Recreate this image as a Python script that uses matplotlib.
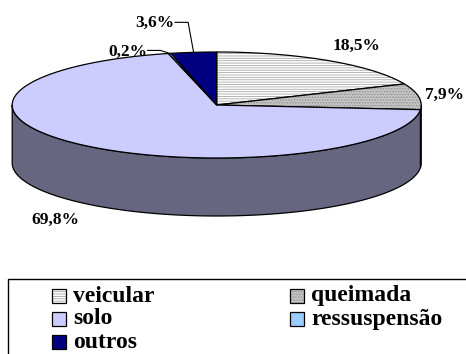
import numpy as np
import matplotlib
matplotlib.use("Agg")
import matplotlib.pyplot as plt
from matplotlib.patches import Polygon, Rectangle

# Source shares (%)
categories = ["veicular", "queimada", "solo", "ressuspensão", "outros"]
shares = [18.5, 7.9, 69.8, 0.2, 3.6]
labels = ["18,5%", "7,9%", "69,8%", "0,2%", "3,6%"]

# Styling per slice
top_colors = ["#FFFFFF", "#C4C4C4", "#CCCCFF", "#99CCFF", "#000080"]
side_colors = ["#808080", "#626262", "#666680", "#4C6680", "#000040"]
hatches = ["-------", "......", None, None, None]
hatch_colors = ["#A8A8A8", "#8A8A8A", None, None, None]

# Pie geometry (pixel space)
CX, CY = 216.7, 105.0
RX, RY = 204.5, 53.0
DEPTH = 58.0

# Label placement: offset from the rim point at each slice's mid angle
label_offsets = [(28, -15), (26, -1.5), (-28, 75), (-42, -2), (-38.5, -29)]
leader = [False, False, False, True, True]

FONT = "Liberation Serif"

plt.rcParams["hatch.linewidth"] = 0.6

fig = plt.figure(figsize=(4.66, 3.54), dpi=100)
ax = fig.add_axes([0, 0, 1, 1])
ax.set_xlim(0, 466)
ax.set_ylim(354, 0)
ax.axis("off")


def rim(t_deg, dz=0.0):
    t = np.radians(t_deg)
    return CX + RX * np.cos(t), CY - RY * np.sin(t) + dz


def arc(t0, t1, dz=0.0, n=200):
    ts = np.linspace(t0, t1, max(2, int(abs(t1 - t0) / 360 * n) + 2))
    x, y = rim(ts, dz)
    return np.column_stack([x, y])


cum = np.concatenate([[0], np.cumsum(shares)])
t_start = 90 - cum[:-1] * 3.6
t_end = 90 - cum[1:] * 3.6

# Side walls: visible front half is t in [-180, 0] (mod 360)
for i in range(len(shares)):
    lo, hi = t_end[i], t_start[i]
    for k in (-1, 0, 1):
        a = max(lo, -180 + 360 * k)
        b = min(hi, 0 + 360 * k)
        if b > a:
            top = arc(a, b)
            bot = arc(b, a, DEPTH)
            poly = np.vstack([top, bot])
            ax.add_patch(Polygon(poly, closed=True, facecolor=side_colors[i],
                                 edgecolor="black", linewidth=0.9, joinstyle="round"))

# Top wedges
for i in range(len(shares)):
    pts = np.vstack([[CX, CY], arc(t_start[i], t_end[i])])
    ax.add_patch(Polygon(pts, closed=True, facecolor=top_colors[i],
                         edgecolor="none", linewidth=0))
    if hatches[i]:
        ax.add_patch(Polygon(pts, closed=True, facecolor="none", hatch=hatches[i],
                             edgecolor=hatch_colors[i], linewidth=0))
    ax.add_patch(Polygon(pts, closed=True, facecolor="none",
                         edgecolor="black", linewidth=0.9, joinstyle="round"))

# Percentage labels
for i, lab in enumerate(labels):
    tm = (t_start[i] + t_end[i]) / 2
    rx, ry = rim(tm)
    lx, ly = rx + label_offsets[i][0], ry + label_offsets[i][1]
    ax.text(lx, ly, lab, ha="center", va="center", fontsize=12.5,
            fontweight="bold", family=FONT)
    if leader[i]:
        x_edge = lx + 20
        ax.plot([x_edge, x_edge + 13, rx], [ly - 1, ly - 1, ry],
                color="black", linewidth=0.8)

# Legend box (extends past the right and bottom edges)
ax.add_patch(Rectangle((8, 279), 470, 90, facecolor="white",
                       edgecolor="black", linewidth=1.0, clip_on=False))

col_x = [52, 290]
row_y = [296, 319, 342]
order = [(0, 0), (1, 0), (2, 0), (0, 1), (1, 1)]
legend_idx = [0, 2, 4, 1, 3]
for (r, c), i in zip(order, legend_idx):
    x0, y0 = col_x[c], row_y[r]
    ax.add_patch(Rectangle((x0, y0 - 7), 14, 14, facecolor=top_colors[i],
                           edgecolor="none"))
    if hatches[i]:
        ax.add_patch(Rectangle((x0, y0 - 7), 14, 14, facecolor="none",
                               hatch=hatches[i], edgecolor=hatch_colors[i], linewidth=0))
    ax.add_patch(Rectangle((x0, y0 - 7), 14, 14, facecolor="none",
                           edgecolor="black", linewidth=0.9))
    ax.text(x0 + 21, y0, categories[i], ha="left", va="center", fontsize=17,
            fontweight="bold", family=FONT)

fig.savefig("out.png", dpi=100)
